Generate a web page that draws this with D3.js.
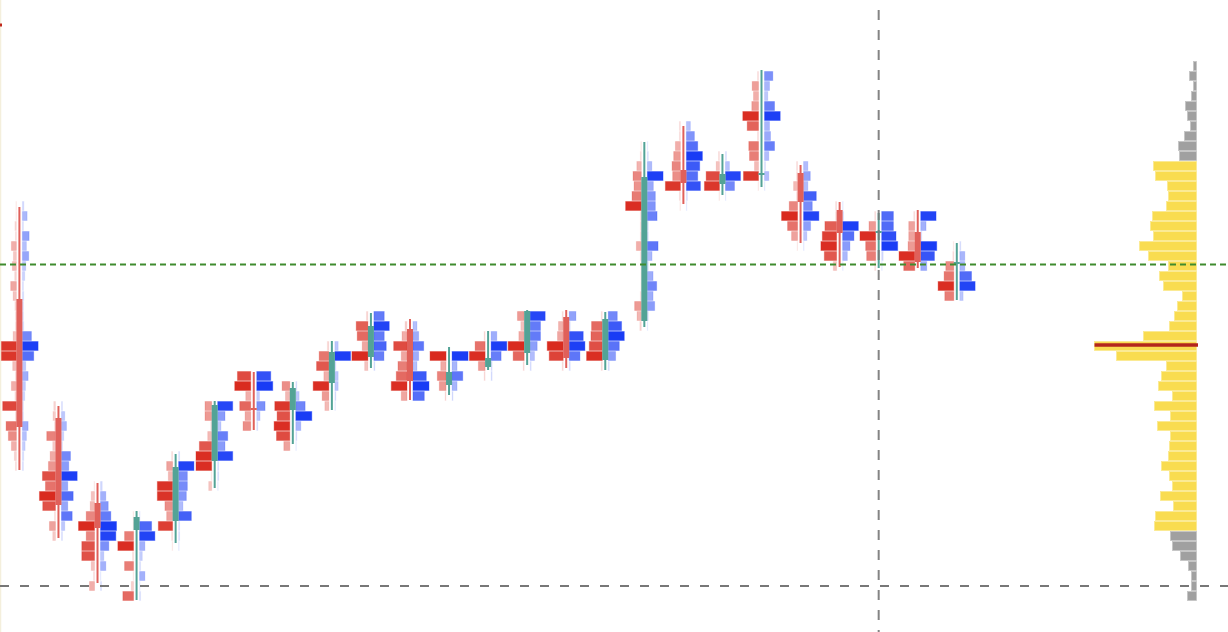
<!DOCTYPE html>
<html><head><meta charset="utf-8">
<script src="https://cdn.jsdelivr.net/npm/d3@7/dist/d3.min.js"></script>
<style>html,body{margin:0;padding:0;background:#fff;overflow:hidden}</style>
</head><body><svg id="chart" width="1228" height="632"></svg>
<script>
// ---------- DATA (price in tick levels) ----------
const candleIdx = d3.range(25);
const opens  = [29.7,17.8,9.3,6.6,7.5,13.5,18.8,18.6,21.3,23.9,26.7,21.1,22.9,24.3,27.9,23.6,27.5,42.6,41.2,42.1,42.3,38.6,36.3,36.4,33.2];
const highs  = [38.9,19.0,11.3,8.5,14.2,19.5,22.4,21.4,25.5,28.3,27.7,24.9,26.5,28.6,28.6,28.4,45.4,47.0,44.2,52.6,43.1,39.4,38.3,38.6,35.3];
const lows   = [12.6,5.8,1.3,-0.4,5.3,10.8,16.6,15.2,18.6,22.8,19.6,20.1,22.6,23.1,22.8,22.6,26.9,39.2,40.1,40.9,35.3,32.9,32.8,32.8,29.6];
const closes = [16.9,9.1,6.8,7.9,12.9,19.1,18.6,20.8,24.4,27.0,21.5,22.4,23.8,28.5,23.8,27.7,41.9,41.3,42.2,42.3,39.4,36.3,36.5,33.4,33.4];

// footprint: first level of each candle, then sell / buy volume per level (bottom -> top)
const fpStart = [13,6,1,0,5,11,17,15,19,23,20,20,22,23,23,23,27,39,40,41,35,33,33,33,30];
const fpSell = [
 [1,2,5,8,10.3,1,13.7,1.5,5,1,3.7,15,15,3.3,1,1,1.5,3.3,5.7,1.7,4,3,5,1,1.5,0.5,0.5],
 [2.7,6,1,12.7,16,10,13,7,5.3,2.7,8.7,1,2.5,1.7],
 [5,1,3.3,12.7,12.7,8.3,16,8.3,4.3,3.3,0.5],
 [10.7,2.3,0.5,9,1,15.7,9,0.5,0.5],
 [0.5,1,14.3,6,7.7,15.3,15.3,4.3,6,1],
 [3,0.5,15.7,15.7,12.3,4,1,6.7,6.7],
 [7.7,5.7,11,5,16,13.3],
 [6,13.3,15.7,12.7,15,4.3,7.7],
 [4,6.7,15.7,5,12.3,9.7,1.5],
 [3.3,16,5.7,10.7,11.7,1.5],
 [5.7,15.7,10.7,9,5.7,13.3,5,2],
 [1,6.7,8.7,5.3,16],
 [1,6.7,15.7,10,1],
 [1,11,16,5.3,3.3,6.7],
 [1,14,16,5.7,4.7,1],
 [1,15.7,13,11.3,10.7,1],
 [1.5,4.3,6.7,1,0.5,0.5,0.5,1,5,1,1,1,15.7,9.3,7.3,8.3,4.5,1,0.5],
 [0.5,1,15,7.7,8.3,6.7,5,1,1],
 [0.5,15,13.3,3.3,1],
 [0.5,15,4,9,9.7,1,11.3,15.7,6.7,5,6.3,1],
 [0.5,6,10,16,8.3,1,4,1,1],
 [3.3,12.3,15.7,14.3,11.7,1,1],
 [1,9,10,15.7,6.7,1],
 [11,15.7,6.7,6,6,1],
 [9,15.7,9.7,8,1,0.5]
];
const fpBuy = [
 [1,1.3,2.7,4,5.7,1,1,2.3,3,5.7,3.3,11.3,15.7,9,1.3,1,1,1.3,1,2.3,3.3,6.3,4,6.7,1,4.7,1.5],
 [1,3.3,10.7,6.3,11.7,6.3,15.7,7.3,9,1,2.3,5,3.3,1],
 [1,0.5,5.3,3.3,8.3,15.3,16,10.3,7.7,5.3,1.7],
 [1,0.5,5.3,1,2.7,5.3,15.3,12,0.5],
 [0.5,1,1,12.7,4.3,7.7,8.7,8.7,15.3,1],
 [0.5,1,1,15,7.3,10,3.3,7.3,15],
 [1,3.3,8.3,2.7,16,14],
 [0.5,1,5,16,9.3,3.3,1],
 [0.5,1,3.3,3.3,1,15.7,3.3],
 [1,10,12.3,10.3,15.3,10.3],
 [11.3,16,13.3,4,5.7,10.7,5.7,4],
 [1,5,10.7,5,16],
 [1,1,10,15.7,5.7],
 [1,4.3,7,10.3,10.3,15],
 [1,10.7,15.7,14,1,6.7],
 [1,7.3,11,16,13.3,9],
 [0.5,1,7.3,5.7,9.3,5.7,1,4.7,10.7,1,1,9.7,8,8,6,15.7,4.5,1,0.5],
 [0.5,1,14,11.3,13.3,16,11.3,8,4],
 [0.5,9,15,4,1],
 [0.5,4.3,1,4.3,10,6,5,15.7,10,3.3,5,8.3],
 [0.5,3.3,7,15.3,8.7,12.7,4.3,6.7,4.3],
 [0.5,4.7,7.3,11.3,15.7,1,0.5],
 [0.5,1.5,16,14.3,11.7,11.7],
 [6,13.7,16,1,5.3,15.3],
 [3.3,15.3,11.7,5,5,1]
];

// session volume profile, levels 0..53
const profileVol = [9,5,5,8,16,24,26,42,41,23,36,24,27,35,28,27,26,39,26,42,24,38,35,30,80,102,53,27,22,19,14,33,37,28,48,57,43,46,44,30,28,29,41,43,17,18,12,6,9,11,5,3,7,3];
const pocLevel = 25;
const valueAreaLow = 7, valueAreaHigh = 43;
const refLevelGreen = 33.15;
const refLevelGray = 1.0;
const crosshairCandle = 22;

// ---------- CHART ----------
const W = 1228, H = 632;
const svg = d3.select('#chart');
const x = d3.scalePoint().domain(candleIdx).range([19.4, 956.8]);
const y = d3.scaleLinear().domain([0, 53]).range([596, 66]);
const barW = d3.scaleLinear().domain([0, 16]).range([0, 16]);
const barOp = d3.scaleLinear().domain([0, 16]).range([0.1, 1]).clamp(true);
const pw = d3.scaleLinear().domain([0, d3.max(profileVol)]).range([0, 102]);
const rowH = (y(0) - y(1)) * 0.9;
const RED = '#d92b1f', BLUE = '#193cf5';
const BODY_DN = '#e0605a', BODY_UP = '#53a396';

// left border
svg.append('line').attr('x1',0.5).attr('x2',0.5).attr('y1',0).attr('y2',H)
  .attr('stroke','#f4efdc').attr('stroke-width',1.5);
svg.append('rect').attr('x',0).attr('y',23.5).attr('width',2).attr('height',3).attr('fill','#c0281c');

// profile
const prof = svg.append('g');
const rightEdge = 1196.5;
prof.selectAll('rect').data(profileVol.map((v,i)=>({v,i}))).join('rect')
  .attr('x', d => rightEdge - pw(d.v))
  .attr('y', d => y(d.i) - rowH/2)
  .attr('width', d => pw(d.v))
  .attr('height', rowH)
  .attr('fill', d => (d.i >= valueAreaLow && d.i <= valueAreaHigh) ? '#f9dc50' : '#a0a0a0')
  .attr('stroke', d => (d.i >= valueAreaLow && d.i <= valueAreaHigh) ? '#fbe98f' : '#c4c4c4')
  .attr('stroke-width', 0.8);
prof.append('line')
  .attr('x1', rightEdge - pw(profileVol[pocLevel])).attr('x2', rightEdge + 1.5)
  .attr('y1', y(pocLevel) - 1).attr('y2', y(pocLevel) - 1)
  .attr('stroke', '#b3261c').attr('stroke-width', 3.5);

// footprint candles
const gC = svg.append('g');
candleIdx.forEach(i => {
  const cx = x(i);
  const g = gC.append('g');
  const rows = fpSell[i].map((s,k) => ({lvl: fpStart[i] + k, s, b: fpBuy[i][k]}));
  g.selectAll('rect.s').data(rows).join('rect').attr('class','s')
    .attr('x', d => cx - 3 - barW(d.s)).attr('y', d => y(d.lvl) - rowH/2)
    .attr('width', d => barW(d.s)).attr('height', rowH)
    .attr('fill', RED).attr('fill-opacity', d => barOp(d.s))
    .attr('stroke', RED).attr('stroke-opacity', d => barOp(d.s)*0.35).attr('stroke-width', 1);
  g.selectAll('rect.b').data(rows).join('rect').attr('class','b')
    .attr('x', cx + 3).attr('y', d => y(d.lvl) - rowH/2)
    .attr('width', d => barW(d.b)).attr('height', rowH)
    .attr('fill', BLUE).attr('fill-opacity', d => barOp(d.b))
    .attr('stroke', BLUE).attr('stroke-opacity', d => barOp(d.b)*0.35).attr('stroke-width', 1);
  const up = closes[i] >= opens[i];
  const col = up ? BODY_UP : BODY_DN;
  g.append('line').attr('x1', cx).attr('x2', cx)
    .attr('y1', y(highs[i])).attr('y2', y(lows[i]))
    .attr('stroke', '#fff').attr('stroke-width', 4).attr('stroke-opacity', 0.7);
  g.append('line').attr('x1', cx).attr('x2', cx)
    .attr('y1', y(highs[i])).attr('y2', y(lows[i]))
    .attr('stroke', col).attr('stroke-width', 2);
  const top = y(Math.max(opens[i], closes[i])), bot = y(Math.min(opens[i], closes[i]));
  g.append('rect').attr('x', cx - 3).attr('width', 6)
    .attr('y', top).attr('height', Math.max(2, bot - top))
    .attr('fill', col);
});

// reference lines
svg.append('line').attr('x1',0).attr('x2',W)
  .attr('y1', y(refLevelGreen)).attr('y2', y(refLevelGreen))
  .attr('stroke','#3f8b2e').attr('stroke-width',2).attr('stroke-dasharray','6,4');
svg.append('line').attr('x1',0).attr('x2',W)
  .attr('y1', y(refLevelGray)).attr('y2', y(refLevelGray))
  .attr('stroke','#777').attr('stroke-width',2).attr('stroke-dasharray','9,11');
svg.append('line').attr('x1', x(crosshairCandle)).attr('x2', x(crosshairCandle))
  .attr('y1',10).attr('y2',H)
  .attr('stroke','#777').attr('stroke-width',2).attr('stroke-dasharray','10,10').attr('stroke-opacity',0.9);
</script></body></html>
